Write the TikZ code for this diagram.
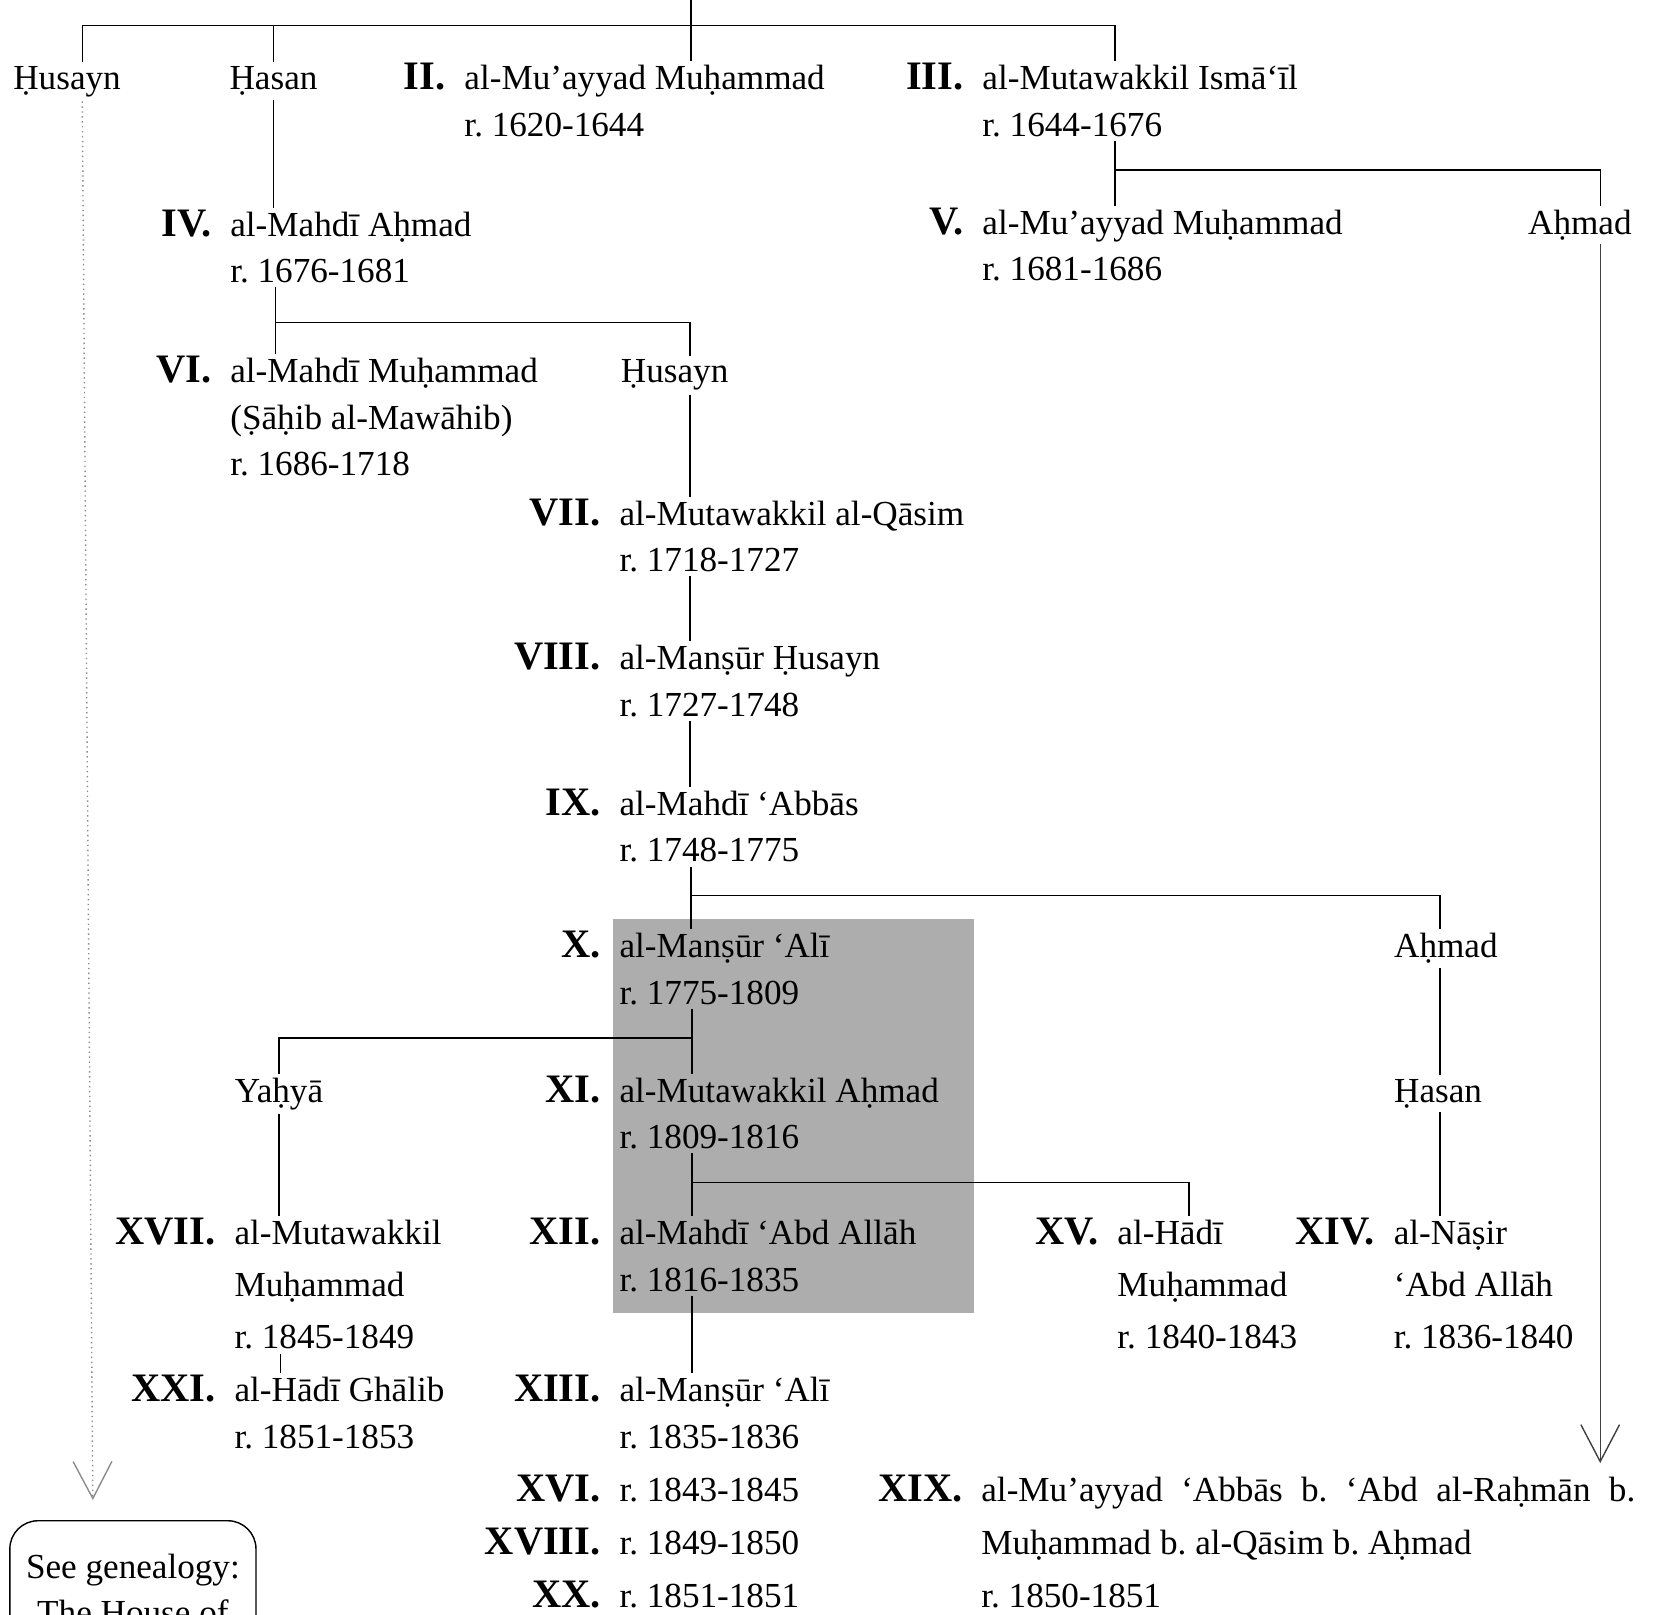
\documentclass[tikz,border=0pt]{standalone}
\usepackage{fontspec}
\setmainfont{Liberation Serif}
\usepackage{tikz}
\usetikzlibrary{positioning}
\usetikzlibrary{arrows.meta,calc}
\frenchspacing
\newcommand{\rulerfont}{\fontsize{10}{13.2}\selectfont}
\newcommand{\loosefont}{\fontsize{10}{14.8}\selectfont}
\newcommand{\widerfont}{\fontsize{10}{15.2}\selectfont}
\newcommand{\regnalfont}{\fontsize{11.5}{13}\selectfont\bfseries}
% lines stacked under the first one, which keeps the baseline
\newcommand{\stack}[1]{\vtop{\let\\\cr\halign{##\hfil\cr#1\crcr}}}
\tikzset{
	line width = 0.4pt,
	num/.style = {anchor = base east, inner sep = 0pt, font = \regnalfont},
	ruler/.style = {inner xsep = 0pt, inner ysep = 1pt, font = \rulerfont},
	kin/.style = {anchor = base west, inner xsep = 0pt, inner ysep = 1pt, font = \rulerfont},
	loose/.style = {font = \loosefont},
	wider/.style = {font = \widerfont},
	faint/.style = {densely dotted, black!45},
	dim/.style = {black!75},
	tip/.style = {-{Straight Barb[length = 10.5pt, width = 11pt]}},
	shade/.style = {fill = black!32},
}
\begin{document}
\begin{tikzpicture}[x = 0.3pt, y = -0.3pt]
	\useasboundingbox (0,0) rectangle (1568,1531);
	\clip (0,0) rectangle (1568,1531);
	% shaded block behind X--XII
	\fill [shade] (581,871) rectangle (923,1245);

	\node (husayn1) [kin] at (12,85) {Ḥusayn};
	\node (hasan1) [kin] at (217,85) {Ḥasan};
	\node (n2) [num] at (423,85) {II.};
	\node (r2) [ruler, base right = 5pt of n2] {\stack{al-Mu’ayyad Muḥammad\\r. 1620-1644}};
	\node (n3) [num] at (914,85) {III.};
	\node (r3) [ruler, base right = 5pt of n3] {\stack{al-Mutawakkil Ismā‘īl\\r. 1644-1676}};
	\node (n4) [num] at (201,224) {IV.};
	\node (r4) [ruler, base right = 5pt of n4] {\stack{al-Mahdī Aḥmad\\r. 1676-1681}};
	\node (n5) [num] at (914,222) {V.};
	\node (r5) [ruler, base right = 5pt of n5] {\stack{al-Mu’ayyad Muḥammad\\r. 1681-1686}};
	\node (ahmad1) [kin] at (1448,222) {Aḥmad};
	\node (n6) [num] at (201,363) {VI.};
	\node (r6) [ruler, base right = 5pt of n6] {\stack{al-Mahdī Muḥammad\\(Ṣāḥib al-Mawāhib)\\r. 1686-1718}};
	\node (husayn2) [kin] at (588,363) {Ḥusayn};
	\node (n7) [num] at (570,498) {VII.};
	\node (r7) [ruler, base right = 5pt of n7] {\stack{al-Mutawakkil al-Qāsim\\r. 1718-1727}};
	\node (n8) [num] at (570,635) {VIII.};
	\node (r8) [ruler, base right = 5pt of n8] {\stack{al-Manṣūr Ḥusayn\\r. 1727-1748}};
	\node (n9) [num] at (570,773) {IX.};
	\node (r9) [ruler, base right = 5pt of n9] {\stack{al-Mahdī ‘Abbās\\r. 1748-1775}};
	\node (n10) [num] at (570,908) {X.};
	\node (r10) [ruler, base right = 5pt of n10] {\stack{al-Manṣūr ‘Alī\\r. 1775-1809}};
	\node (ahmad2) [kin] at (1321,908) {Aḥmad};
	\node (yahya) [kin] at (222,1045) {Yaḥyā};
	\node (n11) [num] at (570,1045) {XI.};
	\node (r11) [ruler, base right = 5pt of n11] {\stack{al-Mutawakkil Aḥmad\\r. 1809-1816}};
	\node (hasan2) [kin] at (1321,1045) {Ḥasan};
	\node (n17) [num] at (205,1180) {XVII.};
	\node (r17) [ruler, loose, base right = 5pt of n17] {\stack{al-Mutawakkil\\Muḥammad\\r. 1845-1849}};
	\node (n12) [num] at (570,1180) {XII.};
	\node (r12) [ruler, base right = 5pt of n12] {\stack{al-Mahdī ‘Abd Allāh\\r. 1816-1835}};
	\node (n15) [num] at (1042,1180) {XV.};
	\node (r15) [ruler, loose, base right = 5pt of n15] {\stack{al-Hādī\\Muḥammad\\r. 1840-1843}};
	\node (n14) [num] at (1304,1180) {XIV.};
	\node (r14) [ruler, loose, base right = 5pt of n14] {\stack{al-Nāṣir\\‘Abd Allāh\\r. 1836-1840}};
	\node (n21) [num] at (205,1329) {XXI.};
	\node (r21) [ruler, base right = 5pt of n21] {\stack{al-Hādī Ghālib\\r. 1851-1853}};
	\node (n13) [num] at (570,1329) {XIII.};
	\node (r13) [ruler, base right = 5pt of n13] {\stack{al-Manṣūr ‘Alī\\r. 1835-1836}};
	\node (n16) [num] at (570,1423) {XVI.};
	\node (r16) [kin, base right = 5pt of n16] {r. 1843-1845};
	\node (n18) [num] at (570,1474) {XVIII.};
	\node (r18) [kin, base right = 5pt of n18] {r. 1849-1850};
	\node (n20) [num] at (570,1524) {XX.};
	\node (r20) [kin, base right = 5pt of n20] {r. 1851-1851};
	\node (n19) [num] at (913,1423) {XIX.};
	\node (r19) [ruler, wider, base right = 5pt of n19] {\stack{\makebox[186pt][s]{al-Mu’ayyad ‘Abbās b. ‘Abd al-Raḥmān b.}\\Muḥammad b. al-Qāsim b. Aḥmad\\r. 1850-1851}};
	\node (seebox) [draw, rounded corners = 8pt, align = center, anchor = north, minimum width = 70pt, inner ysep = 9.5pt, font = \rulerfont] at (126,1441) {See genealogy:\\The House of};

	\coordinate (top) at (655,0);
	\coordinate (bar1l) at (78,24);
	\coordinate (bar1r) at (1057,24);
	\coordinate (bar2l) at (261,306);
	\coordinate (bar2r) at (654,306);
	\coordinate (bar3) at (655,849);
	\coordinate (bar3r) at (1365,849);
	\coordinate (bar4) at (656,984);
	\coordinate (bar5l) at (656,1121);
	\coordinate (bar5r) at (1127,1121);
	\coordinate (bar6l) at (1057,161);
	\coordinate (bar6r) at (1517,161);
	\coordinate (x17) at (266,1300);
	\coordinate (arr1) at (88,1422);
	\coordinate (arr2) at (1517,1387);

	\draw (top) -- (top |- r2.north);
	\draw (bar1l |- husayn1.north) -- (bar1l) -- (bar1r) -- (bar1r |- r3.north);
	\draw (hasan1.north) -- (hasan1.north |- bar1l);
	\draw (hasan1.south) -- (hasan1.south |- r4.north);
	\draw [faint, tip] (bar1l |- husayn1.south) -- (arr1);
	\draw (bar1r |- r3.south) -- (bar1r |- r5.north);
	\draw (bar6l) -- (bar6r) -- (bar6r |- ahmad1.north);
	\draw [dim, tip] (bar6r |- ahmad1.south) -- (arr2);
	\draw (bar2l |- r4.south) -- (bar2l |- r6.north);
	\draw (bar2l) -- (bar2r) -- (bar2r |- husayn2.north);
	\draw (bar2r |- husayn2.south) -- (bar2r |- r7.north);
	\draw (bar2r |- r7.south) -- (bar2r |- r8.north);
	\draw (bar2r |- r8.south) -- (bar2r |- r9.north);
	\draw (bar3 |- r9.south) -- (bar3 |- r10.north);
	\draw (bar3) -- (bar3r) -- (bar3r |- ahmad2.north);
	\draw (bar3r |- ahmad2.south) -- (bar3r |- hasan2.north);
	\draw (bar3r |- hasan2.south) -- (bar3r |- r14.north);
	\draw (bar4 |- r10.south) -- (bar4 |- r11.north);
	\draw (bar4) -| (yahya.north);
	\draw (yahya.south) -- (yahya.south |- r17.north);
	\draw (bar5l |- r11.south) -- (bar5l |- r12.north);
	\draw (bar5l) -- (bar5r) -- (bar5r |- r15.north);
	\draw (bar5l |- r12.south) -- (bar5l |- r13.north);
	\draw (x17 |- r17.south) -- (x17 |- r21.north);
\end{tikzpicture}
\end{document}
